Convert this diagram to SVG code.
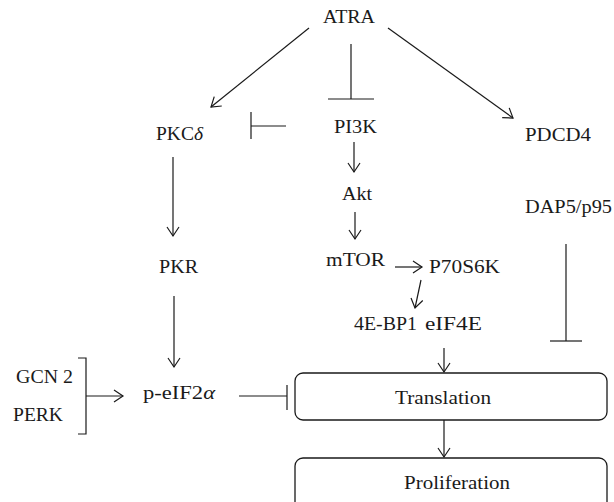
<svg xmlns="http://www.w3.org/2000/svg" width="614" height="502" viewBox="0 0 614 502">
<style>
text{font-family:"Liberation Serif","Times New Roman",serif;font-size:18px;fill:#1a1a1a}
.c line,.c polyline{stroke:#1a1a1a;stroke-width:1.2;fill:none}
.arr{marker-end:url(#ah)}
.box{fill:#fff;stroke:#1a1a1a;stroke-width:1.3}
.it{font-style:italic}
</style>
<defs>
<marker id="ah" markerUnits="userSpaceOnUse" markerWidth="12" markerHeight="14" viewBox="0 0 12 14" refX="10" refY="7" orient="auto">
<path d="M1,1 L10,7 L1,13" fill="none" stroke="#1a1a1a" stroke-width="1.2"/>
</marker>
</defs>
<rect width="614" height="502" fill="#fff"/>
<g class="c" id="connectors">
<line class="arr" x1="309" y1="28" x2="211" y2="107"/>
<line x1="351" y1="44" x2="351" y2="99"/>
<line x1="328" y1="99" x2="374" y2="99"/>
<line class="arr" x1="388" y1="28" x2="513" y2="118"/>
<line x1="286" y1="126" x2="251" y2="126"/>
<line x1="251" y1="112" x2="251" y2="139"/>
<line class="arr" x1="354" y1="142" x2="354" y2="172"/>
<line class="arr" x1="355" y1="212" x2="355" y2="239"/>
<line class="arr" x1="173" y1="157" x2="173" y2="236"/>
<line class="arr" x1="395" y1="267" x2="422" y2="267"/>
<line class="arr" x1="421" y1="280" x2="415" y2="308"/>
<line class="arr" x1="444" y1="348" x2="444" y2="372"/>
<line x1="566" y1="244" x2="566" y2="341"/>
<line x1="550" y1="341" x2="582" y2="341"/>
<line class="arr" x1="174" y1="296" x2="174" y2="367"/>
<polyline points="78,358 86,358 86,434 78,434"/>
<line class="arr" x1="86" y1="396" x2="123" y2="396"/>
<line x1="239" y1="396" x2="287" y2="396"/>
<line x1="287" y1="385" x2="287" y2="410"/>
<line class="arr" x1="444" y1="420" x2="444" y2="457"/>
</g>
<g id="ATRA"><text x="323" y="23" textLength="52" lengthAdjust="spacingAndGlyphs">ATRA</text></g>
<g id="PKCd"><text x="156" y="140" textLength="47" lengthAdjust="spacingAndGlyphs">PKC<tspan class="it">δ</tspan></text></g>
<g id="PI3K"><text x="334" y="133" textLength="43" lengthAdjust="spacingAndGlyphs">PI3K</text></g>
<g id="PDCD4"><text x="525" y="141" textLength="66" lengthAdjust="spacingAndGlyphs">PDCD4</text></g>
<g id="Akt"><text x="342" y="200" textLength="30" lengthAdjust="spacingAndGlyphs">Akt</text></g>
<g id="DAP5"><text x="525" y="213" textLength="87" lengthAdjust="spacingAndGlyphs">DAP5/p95</text></g>
<g id="PKR"><text x="159" y="273" textLength="39" lengthAdjust="spacingAndGlyphs">PKR</text></g>
<g id="mTOR"><text x="326" y="266" textLength="59" lengthAdjust="spacingAndGlyphs">mTOR</text></g>
<g id="P70S6K"><text x="429" y="273" textLength="71" lengthAdjust="spacingAndGlyphs">P70S6K</text></g>
<g id="BP1"><text x="354" y="330" textLength="63" lengthAdjust="spacingAndGlyphs">4E-BP1</text></g>
<g id="eIF4E"><text x="425" y="330" textLength="57" lengthAdjust="spacingAndGlyphs">eIF4E</text></g>
<g id="GCN2"><text x="16" y="383" textLength="57" lengthAdjust="spacingAndGlyphs">GCN 2</text></g>
<g id="PERK"><text x="13" y="421" textLength="50" lengthAdjust="spacingAndGlyphs">PERK</text></g>
<g id="peIF2a"><text x="143" y="399" textLength="72" lengthAdjust="spacingAndGlyphs">p-eIF2<tspan class="it">α</tspan></text></g>
<g id="Translation"><rect class="box" x="295" y="373" width="312" height="47" rx="8"/><text x="395" y="404" textLength="96" lengthAdjust="spacingAndGlyphs">Translation</text></g>
<g id="Proliferation"><rect class="box" x="295" y="458" width="312" height="60" rx="8"/><text x="404" y="489" textLength="106" lengthAdjust="spacingAndGlyphs">Proliferation</text></g>
</svg>
